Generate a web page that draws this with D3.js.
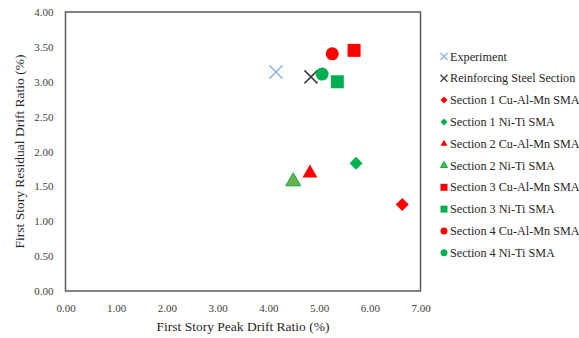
<!DOCTYPE html>
<html>
<head>
<meta charset="utf-8">
<script src="https://cdn.jsdelivr.net/npm/d3@7"></script>
<style>
  body { margin: 0; background: #fff; overflow: hidden; }
  svg text { font-family: "Liberation Serif", "Times New Roman", serif; }
</style>
</head>
<body>
<div class="chart"></div>
<script>
// data
var seriesNames = ["Experiment", "Reinforcing Steel Section",
    "Section 1 Cu-Al-Mn SMA", "Section 1 Ni-Ti SMA",
    "Section 2 Cu-Al-Mn SMA", "Section 2 Ni-Ti SMA",
    "Section 3 Cu-Al-Mn SMA", "Section 3 Ni-Ti SMA",
    "Section 4 Cu-Al-Mn SMA", "Section 4 Ni-Ti SMA"];
var peakDrift = [4.15, 4.84, 6.64, 5.73, 4.82, 4.49, 5.69, 5.36, 5.26, 5.06];
var residualDrift = [3.14, 3.07, 1.24, 1.83, 1.69, 1.57, 3.45, 3.00, 3.40, 3.11];
var markerType = ["x", "x", "diamond", "diamond", "triangle", "triangle", "square", "square", "circle", "circle"];
var markerColor = ["#8db3e2", "#404040", "#ff0000", "#00b050", "#ff0000", "#70ad47", "#ff0000", "#00b050", "#ff0000", "#00b050"];
var xTicks = [0, 1, 2, 3, 4, 5, 6, 7];
var yTicks = [0, 0.5, 1, 1.5, 2, 2.5, 3, 3.5, 4];

var width = 579, height = 338;
var plotLeft = 65.5, plotRight = 420.5, plotTop = 12, plotBottom = 291;

var svg = d3.select(".chart").append("svg")
    .attr("width", width)
    .attr("height", height);

var x = d3.scaleLinear().domain([0, 7]).range([plotLeft, plotRight]);
var y = d3.scaleLinear().domain([0, 4]).range([plotBottom, plotTop]);

// frame
svg.append("rect")
    .attr("x", plotLeft).attr("y", plotTop)
    .attr("width", plotRight - plotLeft).attr("height", plotBottom - plotTop)
    .attr("fill", "none")
    .attr("stroke", "#595959")
    .attr("stroke-width", 1.5);

// axes (labels only, like Excel)
var xAxis = svg.append("g")
    .attr("transform", "translate(0," + plotBottom + ")")
    .call(d3.axisBottom(x).tickValues(xTicks).tickSize(0).tickPadding(13).tickFormat(d3.format(".2f")));
var yAxis = svg.append("g")
    .attr("transform", "translate(" + plotLeft + ",0)")
    .call(d3.axisLeft(y).tickValues(yTicks).tickSize(0).tickPadding(12).tickFormat(d3.format(".2f")));
[xAxis, yAxis].forEach(function (g) {
    g.select(".domain").remove();
    g.selectAll("text")
        .style("font-size", "11px")
        .style("font-family", "'Liberation Serif', serif")
        .attr("fill", "#404040");
});

// axis titles
svg.append("text")
    .attr("x", (plotLeft + plotRight) / 2)
    .attr("y", 331)
    .attr("text-anchor", "middle")
    .style("font-size", "13.5px")
    .attr("fill", "#262626")
    .text("First Story Peak Drift Ratio (%)");

svg.append("text")
    .attr("transform", "translate(24," + ((plotTop + plotBottom) / 2) + ") rotate(-90)")
    .attr("text-anchor", "middle")
    .style("font-size", "13.5px")
    .attr("fill", "#262626")
    .text("First Story Residual Drift Ratio (%)");

// draws a marker of given type in g, centred on 0,0
function drawMarker(g, type, color, size) {
    var h = size / 2;
    if (type == "x") {
        g.append("path")
            .attr("d", "M" + (-h) + "," + (-h) + "L" + h + "," + h + "M" + (-h) + "," + h + "L" + h + "," + (-h))
            .attr("stroke", color)
            .attr("stroke-width", size > 9 ? 1.6 : 1.3)
            .attr("fill", "none");
        return;
    }
    if (type == "diamond") {
        g.append("path")
            .attr("d", "M0," + (-h) + "L" + h + ",0L0," + h + "L" + (-h) + ",0Z")
            .attr("fill", color);
        return;
    }
    var sym, area;
    if (type == "square") { sym = d3.symbolSquare; area = size * size; }
    else if (type == "circle") { sym = d3.symbolCircle; area = Math.PI * size * size / 4; }
    else { sym = d3.symbolTriangle; area = size * size * 0.433; }
    var p = g.append("path")
        .attr("d", d3.symbol().type(sym).size(area)())
        .attr("fill", color);
    if (color == "#70ad47") {
        p.attr("stroke", "#00b050").attr("stroke-width", 1);
    }
}

// points
seriesNames.forEach(function (name, i) {
    var g = svg.append("g")
        .attr("transform", "translate(" + x(peakDrift[i]) + "," + y(residualDrift[i]) + ")");
    var s = markerType[i] == "triangle" ? 15 : 13;
    drawMarker(g, markerType[i], markerColor[i], s);
});

// legend
var legend = svg.append("g").attr("transform", "translate(444,56.5)");
seriesNames.forEach(function (name, i) {
    var row = legend.append("g").attr("transform", "translate(0," + (i * 21.8) + ")");
    drawMarker(row, markerType[i], markerColor[i], 7);
    row.append("text")
        .attr("x", 6)
        .attr("y", 4)
        .style("font-size", "12.2px")
        .attr("fill", "#262626")
        .text(name);
});
</script>
</body>
</html>
